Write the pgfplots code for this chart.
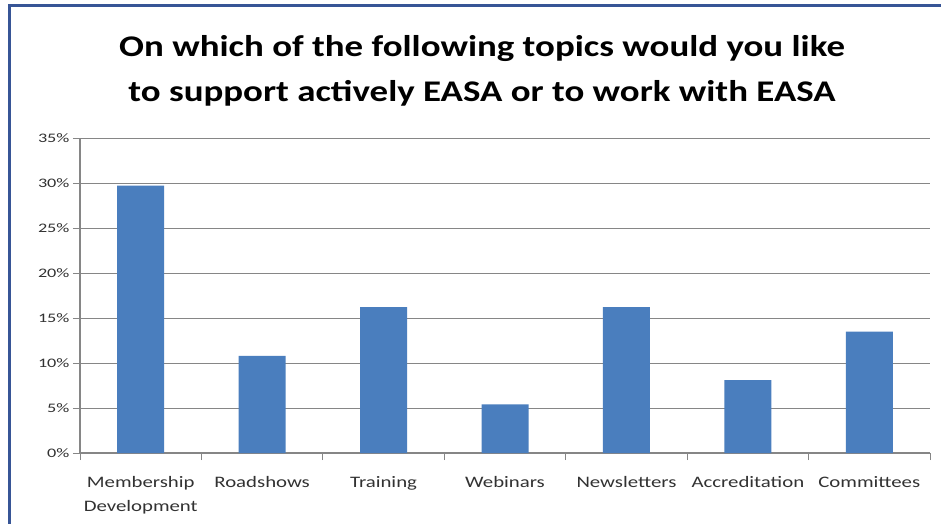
\documentclass[border=0pt]{standalone}
\usepackage{fontspec}
\setmainfont{Carlito}
\usepackage{graphicx}
\usepackage{pgfplots}
\pgfplotsset{compat=1.18}
\definecolor{barblue}{RGB}{74,126,190}
\definecolor{gridgray}{RGB}{134,134,134}
\definecolor{framecol}{RGB}{55,85,150}
\definecolor{labcol}{RGB}{50,50,50}
\newcommand{\sx}[1]{\scalebox{1.3}[1]{#1}}
\begin{document}
\begin{tikzpicture}[x=1pt,y=1pt]
\useasboundingbox (0,0) rectangle (941,523);
\fill[white] (0,0) rectangle (941,523);
\draw[framecol, line width=3pt] (9,-5) -- (9,517.5) -- (946,517.5);
\node[font=\fontsize{30}{32}\selectfont\bfseries, text=black] at (482,474) {\scalebox{1.23}[1]{On which of the following topics would you like}};
\node[font=\fontsize{30}{32}\selectfont\bfseries, text=black] at (482,430) {\scalebox{1.23}[1]{to support actively EASA or to work with EASA}};
\begin{axis}[
  at={(80pt,70pt)}, anchor=south west,
  scale only axis, width=850pt, height=315pt,
  xmin=-0.5, xmax=6.5, ymin=0, ymax=35,
  /pgf/number format/assume math mode=true,
  ytick={0,5,...,35},
  yticklabel={\scalebox{1.4}[1]{\pgfmathprintnumber{\tick}\%}\hspace{7pt}},
  yticklabel style={font=\fontsize{13}{13}\selectfont, text=labcol, anchor=east},
  xtick={-0.5,0.5,...,6.5},
  xticklabels={},
  xticklabel style={font=\fontsize{16}{24}\selectfont, text=labcol, align=center},
  extra x ticks={0,...,6},
  extra x tick labels={{\sx{Membership}\\\sx{Development}},\sx{Roadshows},\sx{Training},\sx{Webinars},\sx{Newsletters},\sx{Accreditation},\sx{Committees}},
  extra x tick style={grid=none, major tick length=0pt, tick style={draw=none}, xticklabel shift=20pt},
  ymajorgrids, grid style={gridgray, line width=1pt},
  tick style={draw=gridgray, line width=0.8pt},
  tick align=outside, major tick length=7pt,
  axis x line*=bottom, axis y line*=left,
  axis line style={gridgray, line width=1.2pt, -},
  ybar, bar width=47pt,
]
\addplot[fill=barblue, draw=none] coordinates {(0,29.7) (1,10.8) (2,16.2) (3,5.4) (4,16.2) (5,8.1) (6,13.5)};
\end{axis}
\end{tikzpicture}
\end{document}
